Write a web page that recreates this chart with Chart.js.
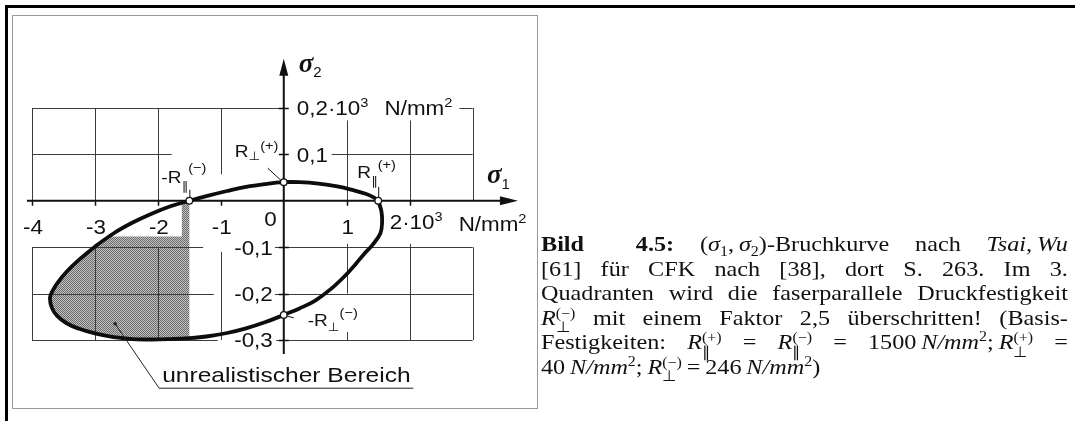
<!DOCTYPE html>
<html lang="de">
<head>
<meta charset="utf-8">
<title>Bruchkurve nach Tsai, Wu</title>
<script src="https://cdn.jsdelivr.net/npm/chart.js@4.4.1/dist/chart.umd.min.js"></script>
<style>
  html, body { margin: 0; padding: 0; background: #fff; }
  body { width: 1075px; height: 421px; position: relative; overflow: hidden; }
  #frame { position: absolute; left: 5px; top: 5px; right: -10px; bottom: -10px; border-top: 3px solid #000; border-left: 3px solid #000; }
  #panel { position: absolute; left: 12px; top: 15px; width: 524px; height: 392px; border: 1px solid #9a9a9a; }
  #tsaiWu { position: absolute; left: 0; top: 0; }
  #caption { position: absolute; left: 541px; top: 232px; width: 479px; color: #111;
             transform: scaleX(1.1); transform-origin: 0 0;
             font-family: "Liberation Serif", "Times New Roman", serif; font-size: 22px; }
  #caption div { height: 24.5px; line-height: 24.5px; white-space: nowrap; }
  #caption .j { text-align: justify; text-align-last: justify; }
  #caption .ss { display: inline-block; vertical-align: -0.55em; font-size: 0.66em; line-height: 1; font-style: normal; }
  #caption .ss span { display: block; height: 1em; }
  #caption sup, #caption sub { font-size: 0.66em; line-height: 0; }
</style>
</head>
<body>
<div id="frame"></div>
<div id="panel"></div>
<canvas id="tsaiWu" width="545" height="421"></canvas>
<div id="caption">
  <div class="j"><b>Bild&nbsp; 4.5:</b> (<i>σ</i><sub>1</sub>,&#8201;<i>σ</i><sub>2</sub>)-Bruchkurve nach <i>Tsai,&#8201;Wu</i></div>
  <div class="j">[61] für CFK nach [38], dort S. 263. Im 3.</div>
  <div class="j">Quadranten wird die faserparallele Druckfestigkeit</div>
  <div class="j"><i>R</i><span class="ss"><span>(−)</span><span>⊥</span></span> mit einem Faktor 2,5 überschritten! (Basis-</div>
  <div class="j">Festigkeiten: <i>R</i><span class="ss"><span>(+)</span><span>∥</span></span> = <i>R</i><span class="ss"><span>(−)</span><span>∥</span></span> = 1500&#8201;<i>N/mm</i><sup>2</sup>;&#8201;<i>R</i><span class="ss"><span>(+)</span><span>⊥</span></span> =</div>
  <div>40&#8201;<i>N/mm</i><sup>2</sup>;&#8201;<i>R</i><span class="ss"><span>(−)</span><span>⊥</span></span>&#8201;=&#8201;246&#8201;<i>N/mm</i><sup>2</sup>)</div>
</div>
<script>
// failure curve sigma1 / sigma2, both in 10^3 N/mm^2, walked round once
var curveS1 = [1.5, 1.42, 1.3, 1.1, 0.85, 0.55, 0.25, 0, -0.3, -0.6, -0.9, -1.2, -1.5, -1.8, -2.1, -2.4, -2.7, -3.0,
  -3.25, -3.45, -3.6, -3.68, -3.715, -3.68, -3.6, -3.45, -3.25, -3.0, -2.7, -2.4, -2.1, -1.8, -1.5, -1.2, -0.9, -0.6,
  -0.3, 0, 0.25, 0.5, 0.75, 1.0, 1.15, 1.28, 1.41, 1.535, 1.562, 1.55, 1.5];
var curveS2 = [0, 0.008, 0.015, 0.023, 0.031, 0.037, 0.040, 0.040, 0.036, 0.030, 0.021, 0.011, 0, -0.012, -0.028, -0.047, -0.070, -0.099,
  -0.127, -0.153, -0.178, -0.196, -0.21, -0.232, -0.248, -0.264, -0.276, -0.286, -0.294, -0.298, -0.299, -0.298, -0.296, -0.292, -0.285, -0.275,
  -0.262, -0.246, -0.232, -0.215, -0.190, -0.158, -0.135, -0.114, -0.095, -0.070, -0.045, -0.022, 0];

// basic strengths R||(+), -R||(-), R_|_(+), -R_|_(-)
var strengthS1 = [1.5, -1.5, 0, 0];
var strengthS2 = [0, 0, 0.04, -0.246];

var xTicks = [-4, -3, -2, -1, 0, 1, 2];
var xTickLabels = ['-4', '-3', '-2', '-1', '0', '1', '2·10³'];
var yTicks = [0.2, 0.1, -0.1, -0.2, -0.3];
var yTickLabels = ['0,2·10³', '0,1', '-0,1', '-0,2', '-0,3'];

// everything left of this sigma1 inside the curve is shaded
var shadeLimit = -1.5;

// grid pieces: [value, from, to]
var gridRows = [[0.2, -4, 0], [0.2, 2.79, 3], [0.1, -4, -1.78], [0.1, 0.76, 3],
  [-0.1, -4, -1.28], [-0.1, -0.14, 3], [-0.2, -4, -1.11], [-0.2, -0.14, 3], [-0.3, -4, -1.05], [-0.3, -0.12, 3]];
var gridCols = [[-4, 0, 0.2], [-4, -0.3, -0.1], [-3, 0, 0.2], [-3, -0.3, -0.1], [-2, 0, 0.2], [-2, -0.3, -0.1],
  [-1, 0.057, 0.2], [-1, -0.3, -0.11], [1, 0, 0.173], [1, -0.2, -0.093], [1, -0.3, -0.283],
  [2, 0, 0.173], [2, -0.3, -0.093], [3, 0, 0.2], [3, -0.3, -0.1]];

var ORIGIN_X = 284, ORIGIN_Y = 200.5;   // canvas pixel of (0, 0)
var UNIT_X = 64.2, UNIT_Y = 476;        // pixels per 10^3 N/mm^2
var SANS = '"Liberation Sans", Arial, sans-serif';

function points(xs, ys) {
  return xs.map(function (x, i) { return { x: x, y: ys[i] }; });
}

// fine screen dots for the shaded area
function stipple() {
  var c = document.createElement('canvas');
  c.width = 2; c.height = 2;
  var g = c.getContext('2d');
  g.fillStyle = '#c2c2c2';
  g.fillRect(0, 0, 2, 2);
  g.fillStyle = '#6a6a6a';
  g.fillRect(0, 0, 1, 1);
  g.fillRect(1, 1, 1, 1);
  return g.createPattern(c, 'repeat');
}

// draws pieces of text side by side: [string, font, dy]
function textRun(ctx, runs, x, y, align, stretch) {
  stretch = stretch || 1.12;
  var widths = runs.map(function (r) { ctx.font = r[1]; return ctx.measureText(r[0]).width; });
  var total = widths.reduce(function (a, b) { return a + b; }, 0);
  var cx = align === 'right' ? -total : (align === 'center' ? -total / 2 : 0);
  ctx.save();
  ctx.translate(x, y);
  ctx.scale(stretch, 1);
  ctx.textAlign = 'left';
  ctx.textBaseline = 'alphabetic';
  ctx.fillStyle = '#111';
  runs.forEach(function (r, i) {
    ctx.font = r[1];
    ctx.fillText(r[0], cx, r[2] || 0);
    cx += widths[i];
  });
  ctx.restore();
}

function line(ctx, pts, width, color) {
  ctx.beginPath();
  ctx.moveTo(pts[0][0], pts[0][1]);
  for (var i = 1; i < pts.length; i++) ctx.lineTo(pts[i][0], pts[i][1]);
  ctx.lineWidth = width;
  ctx.strokeStyle = color || '#111';
  ctx.stroke();
}

var figurePlugin = {
  id: 'figure',
  afterDatasetDraw: function (chart, args) {
    if (args.index !== 0) return;
    var ctx = chart.ctx, sx = chart.scales.x, sy = chart.scales.y;
    var px = function (u) { return sx.getPixelForValue(u); };
    var py = function (v) { return sy.getPixelForValue(v); };
    ctx.save();

    // free space behind the "-2" tick label
    ctx.fillStyle = '#fff';
    ctx.fillRect(px(-2.75), py(-0.004), px(-1.62) - px(-2.75), py(-0.077) - py(-0.004));

    gridRows.forEach(function (g) {
      var y = Math.round(py(g[0])) + 0.5;
      line(ctx, [[px(g[1]), y], [px(g[2]), y]], 1, '#3c3c3c');
    });
    gridCols.forEach(function (g) {
      var x = Math.round(px(g[0])) + 0.5;
      line(ctx, [[x, py(g[1])], [x, py(g[2])]], 1, '#3c3c3c');
    });

    // axes with arrow heads
    var x0 = px(0), y0 = py(0);
    var xEnd = px(3.72), yEnd = py(0.306);
    line(ctx, [[px(-4.08), y0], [xEnd - 8, y0]], 2, '#111');
    line(ctx, [[x0, py(-0.33)], [x0, yEnd + 8]], 2, '#111');
    ctx.fillStyle = '#111';
    ctx.beginPath();
    ctx.moveTo(xEnd, y0); ctx.lineTo(xEnd - 18, y0 - 4.5); ctx.lineTo(xEnd - 18, y0 + 4.5); ctx.closePath();
    ctx.fill();
    ctx.beginPath();
    ctx.moveTo(x0, yEnd); ctx.lineTo(x0 - 4.5, yEnd + 17); ctx.lineTo(x0 + 4.5, yEnd + 17); ctx.closePath();
    ctx.fill();
    xTicks.forEach(function (t) {
      if (t === 0) return;
      line(ctx, [[Math.round(px(t)) + 0.5, y0], [Math.round(px(t)) + 0.5, y0 + 5]], 1.5, '#111');
    });
    yTicks.forEach(function (t) {
      line(ctx, [[x0 - 5, Math.round(py(t)) + 0.5], [x0 + 5, Math.round(py(t)) + 0.5]], 1.5, '#111');
    });
    ctx.restore();
  },
  afterDatasetsDraw: function (chart) {
    var ctx = chart.ctx, sx = chart.scales.x, sy = chart.scales.y;
    var px = function (u) { return sx.getPixelForValue(u); };
    var py = function (v) { return sy.getPixelForValue(v); };
    var x0 = px(0), y0 = py(0);
    var tick = '20px ' + SANS, small = '13px ' + SANS, sub = '12px "DejaVu Sans", ' + SANS, rf = '17px ' + SANS;
    ctx.save();

    xTicks.forEach(function (t, i) {
      var s = xTickLabels[i];
      if (t === 0) textRun(ctx, [[s, tick]], x0 - 7, y0 + 25, 'right');
      else if (i === xTicks.length - 1) textRun(ctx, [['2·10', tick], ['3', small, -8]], px(t) - 20, y0 + 28, 'left');
      else textRun(ctx, [[s, tick]], px(t) + 1, y0 + 33, 'center');
    });
    textRun(ctx, [['N/mm', tick], ['2', small, -8]], px(3) - 14, y0 + 30, 'left');

    yTicks.forEach(function (t, i) {
      var s = yTickLabels[i], y = py(t) + 7.5;
      if (t < 0) textRun(ctx, [[s, tick]], x0 - 11, y, 'right');
      else if (s.indexOf('³') > 0) textRun(ctx, [['0,2·10', tick], ['3', small, -8]], x0 + 13, y, 'left');
      else textRun(ctx, [[s, tick]], x0 + 13, y, 'left');
    });
    textRun(ctx, [['N/mm', tick], ['2', small, -8]], px(1.6), py(0.2) + 7.5, 'left');

    // axis names
    var sig = 'bold italic 27px "Liberation Serif", serif';
    textRun(ctx, [['σ', sig], ['2', '15px ' + SANS, 5]], x0 + 15, py(0.306) + 13, 'left', 1);
    textRun(ctx, [['σ', sig], ['1', '15px ' + SANS, 6]], px(3.72) - 31, y0 - 18, 'left', 1);

    // strength labels with their short leaders
    var rp = [px(strengthS1[0]), py(strengthS2[0])];
    var rm = [px(strengthS1[1]), py(strengthS2[1])];
    var tp = [px(strengthS1[2]), py(strengthS2[2])];
    var tm = [px(strengthS1[3]), py(strengthS2[3])];
    textRun(ctx, [['R', rf], ['⊥', sub, 3], ['(+)', small, -7]], tp[0] - 49, tp[1] - 25, 'left');
    line(ctx, [[tp[0] - 16, tp[1] - 14], [tp[0] - 3, tp[1] - 2]], 1, '#111');
    textRun(ctx, [['-R', rf], ['∥', sub, 7], ['(−)', small, -11]], rm[0] - 28, rm[1] - 18, 'left');
    line(ctx, [[rm[0] + 0.5, rm[1] - 11], [rm[0] + 0.5, rm[1] - 3]], 1, '#111');
    textRun(ctx, [['R', rf], ['∥', sub, 7], ['(+)', small, -9]], rp[0] - 21, rp[1] - 23, 'left');
    line(ctx, [[rp[0] + 0.5, rp[1] - 14], [rp[0] + 0.5, rp[1] - 3]], 1, '#111');
    textRun(ctx, [['-R', rf], ['⊥', sub, 5], ['(−)', small, -9]], tm[0] + 24, tm[1] + 11, 'left');
    line(ctx, [[tm[0] + 3, tm[1] + 1], [tm[0] + 10, tm[1] + 3]], 1, '#111');

    // callout for the shaded area
    var a = [px(-2.68), py(-0.265)], b = [px(-1.98), py(-0.404)];
    ctx.fillStyle = '#222';
    ctx.beginPath(); ctx.arc(a[0], a[1], 1.8, 0, 2 * Math.PI); ctx.fill();
    line(ctx, [a, b, [px(2.06), b[1]]], 1, '#222');
    textRun(ctx, [['unrealistischer Bereich', '21px ' + SANS]], b[0] + 3, b[1] - 6, 'left', 1.17);
    ctx.restore();
  }
};

document.addEventListener('DOMContentLoaded', function () {
  var canvas = document.getElementById('tsaiWu');
  var ctx = canvas.getContext('2d');
  var curve = points(curveS1, curveS2);
  var shaded = curve.filter(function (p) { return p.x <= shadeLimit + 1e-9; });

  new Chart(ctx, {
    type: 'scatter',
    data: {
      datasets: [{
        label: 'unrealistischer Bereich',
        data: shaded,
        showLine: true,
        borderWidth: 0,
        borderColor: 'rgba(0,0,0,0)',
        backgroundColor: stipple(),
        fill: 'shape',
        tension: 0.4,
        pointRadius: 0,
        order: 3
      }, {
        label: 'Bruchkurve',
        data: curve,
        showLine: true,
        borderColor: '#0d0d0d',
        borderWidth: 3.8,
        fill: false,
        tension: 0.4,
        pointRadius: 0,
        order: 2
      }, {
        label: 'Basis-Festigkeiten',
        data: points(strengthS1, strengthS2),
        showLine: false,
        pointStyle: 'circle',
        pointRadius: 3.3,
        pointBorderWidth: 1.3,
        pointBackgroundColor: '#fff',
        pointBorderColor: '#111',
        order: 1
      }]
    },
    options: {
      responsive: false,
      animation: false,
      events: [],
      layout: { padding: 0 },
      scales: {
        x: { type: 'linear', display: false, min: -ORIGIN_X / UNIT_X, max: (canvas.width - ORIGIN_X) / UNIT_X },
        y: { type: 'linear', display: false, min: -(canvas.height - ORIGIN_Y) / UNIT_Y, max: ORIGIN_Y / UNIT_Y }
      },
      plugins: {
        legend: { display: false },
        tooltip: { enabled: false }
      }
    },
    plugins: [figurePlugin]
  });
});
</script>
</body>
</html>
